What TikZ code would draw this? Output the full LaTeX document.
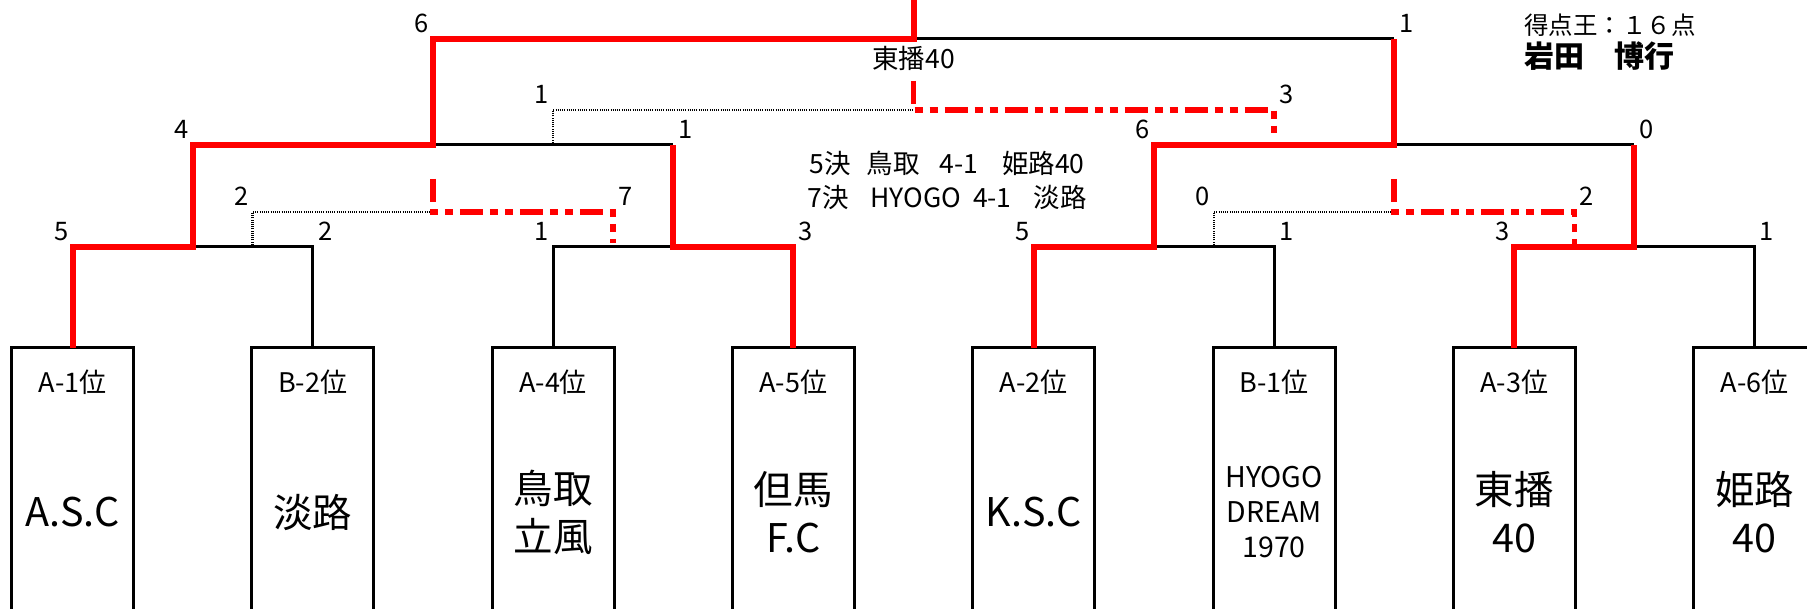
\documentclass[tikz,border=0pt]{standalone}
\usepackage{fontspec}
\setmainfont{Noto Sans CJK JP}
\usetikzlibrary{positioning,calc}
\definecolor{winRed}{RGB}{255,0,0}
\tikzset{%
  % Specifications for style of nodes:
    teamBox/.style = {rectangle, draw, line width=3pt, minimum width=122pt, minimum height=328pt, outer sep=0pt, inner sep=0pt, align=center, font=\fontsize{39.5}{48}\selectfont},
    teamSmall/.style = {teamBox, font=\fontsize{28.5}{35}\selectfont},
    rankLabel/.style = {font=\fontsize{27}{30}\selectfont, inner sep=0pt},
    score/.style = {font=\fontsize{25.5}{28}\selectfont, inner sep=0pt},
    scoreL/.style = {score, anchor=south east, xshift=-4pt, yshift=6pt},
    scoreR/.style = {score, anchor=south west, xshift=5pt, yshift=6pt},
    noteText/.style = {font=\fontsize{26.5}{34}\selectfont, align=center, inner sep=0pt},
  % Specifications for style of lines:
    bracketLine/.style = {line width=3pt, black},
    winLine/.style = {line width=6pt, winRed},
    thirdLine/.style = {line width=2.5pt, black, dash pattern=on 1pt off 1.2pt},
    thirdWin/.style = {line width=5.5pt, winRed, dash pattern=on 23pt off 7pt on 8pt off 7pt on 8pt off 7pt},
}

\begin{document}
\begin{tikzpicture}[x=1pt, y=-1pt]
	\useasboundingbox (0,0) rectangle (1807,609);
	\coordinate (topEdge) at (0,-5);

	\node [teamBox] (team-1) at (72.5,512) {A.S.C};
	\node [teamBox, right=118.3pt of team-1] (team-2) {淡路};
	\node [teamBox, right=118.3pt of team-2] (team-3) {鳥取\\立風};
	\node [teamBox, right=118.3pt of team-3] (team-4) {但馬\\F.C};
	\node [teamBox, right=118.3pt of team-4] (team-5) {K.S.C};
	\node [teamSmall, right=118.3pt of team-5] (team-6) {HYOGO\\DREAM\\1970};
	\node [teamBox, right=118.3pt of team-6] (team-7) {東播\\40};
	\node [teamBox, right=118.3pt of team-7] (team-8) {姫路\\40};

	\node [rankLabel] (rank-1) at ([yshift=-34pt]team-1.north) {A-1位};
	\node [rankLabel] (rank-2) at ([yshift=-34pt]team-2.north) {B-2位};
	\node [rankLabel] (rank-3) at ([yshift=-34pt]team-3.north) {A-4位};
	\node [rankLabel] (rank-4) at ([yshift=-34pt]team-4.north) {A-5位};
	\node [rankLabel] (rank-5) at ([yshift=-34pt]team-5.north) {A-2位};
	\node [rankLabel] (rank-6) at ([yshift=-34pt]team-6.north) {B-1位};
	\node [rankLabel] (rank-7) at ([yshift=-34pt]team-7.north) {A-3位};
	\node [rankLabel] (rank-8) at ([yshift=-34pt]team-8.north) {A-6位};

	% junctions
	\coordinate (j1) at ($(team-1.north)!.5!(team-2.north)+(0pt,101pt)$);
	\coordinate (j2) at ($(team-3.north)!.5!(team-4.north)+(0pt,101pt)$);
	\coordinate (j3) at ($(team-5.north)!.5!(team-6.north)+(0pt,101pt)$);
	\coordinate (j4) at ($(team-7.north)!.5!(team-8.north)+(0pt,101pt)$);
	\coordinate (k1) at ($(j1)!.5!(j2)+(0pt,102pt)$);
	\coordinate (k2) at ($(j3)!.5!(j4)+(0pt,102pt)$);
	\coordinate (f) at ($(k1)!.5!(k2)+(0pt,106pt)$);

	\draw[bracketLine] (j1) -| (team-2.north);
	\draw[bracketLine] (team-3.north) |- (j2);
	\draw[bracketLine] (j2 |- k1) -- (k1);
	\draw[bracketLine] (j3) -| (team-6.north);
	\draw[bracketLine] (k2 |- f) -- (f);
	\draw[bracketLine] (j4) -| (team-8.north);
	\draw[bracketLine] (j4 |- k2) -- (k2);

	% matches for places
	\coordinate (c1) at ($(j1)!.5!(team-2.north |- j1)$);
	\coordinate (d1) at ($(c1)+(0pt,35pt)$);
	\coordinate (c2) at ($(team-3.north |- j2)!.5!(j2)$);
	\coordinate (c3) at ($(k1)!.5!(j2 |- k1)$);
	\coordinate (d3) at ($(c3)+(0pt,35pt)$);
	\coordinate (c4) at ($(j3 |- k2)!.5!(k2)$);
	\coordinate (c5) at ($(j3)!.5!(team-6.north |- j3)$);
	\coordinate (d5) at ($(c5)+(0pt,35pt)$);
	\coordinate (c6) at ($(team-7.north |- j4)!.5!(j4)$);

	\draw[thirdLine] (c1) |- (k1 |- d1);
	\draw[thirdLine] (c3) |- (f |- d3);
	\draw[thirdLine] (c5) |- (k2 |- d5);
	\draw[thirdWin] ($(k1 |- d1)+(0pt,33pt)$) -- (k1 |- d1) -| ([yshift=4pt]c2);
	\draw[thirdWin] ($(f |- d3)+(0pt,29pt)$) coordinate (stubTop) -- (f |- d3) -| ([yshift=12pt]c4);
	\draw[thirdWin] ($(k2 |- d5)+(0pt,33pt)$) -- (k2 |- d5) -| (c6);

	\draw[winLine] (team-1.north) |- (j1) |- (k1) |- (f) -- (f |- topEdge);
	\draw[winLine] (team-4.north) |- (j2) -- (j2 |- k1);
	\draw[winLine] (team-5.north) |- (j3) |- (k2) -- (k2 |- f);
	\draw[winLine] (team-7.north) |- (j4) -- (j4 |- k2);

	% scores
	\node [scoreL] at (team-1.north |- j1) {5};
	\node [scoreR] at (team-2.north |- j1) {2};
	\node [scoreL] at (team-3.north |- j2) {1};
	\node [scoreR] at (team-4.north |- j2) {3};
	\node [scoreL] at (team-5.north |- j3) {5};
	\node [scoreR] at (team-6.north |- j3) {1};
	\node [scoreL] at (team-7.north |- j4) {3};
	\node [scoreR] at (team-8.north |- j4) {1};
	\node [scoreL] at (j1 |- k1) {4};
	\node [scoreR] at (j2 |- k1) {1};
	\node [scoreL] at (j3 |- k2) {6};
	\node [scoreR] at (j4 |- k2) {0};
	\node [scoreL] at (k1 |- f) {6};
	\node [scoreR] at (k2 |- f) {1};
	\node [scoreL] at (d1) {2};
	\node [scoreR] at (c2 |- d1) {7};
	\node [scoreL] at (d3) {1};
	\node [scoreR] at (c4 |- d3) {3};
	\node [scoreL] at (d5) {0};
	\node [scoreR] at (c6 |- d5) {2};

	\node [noteText, anchor=south, yshift=10pt] (bronze) at (stubTop) {東播40};
	\node [noteText] (notes) at (947,180) {5決\hspace{16pt}鳥取\hspace{20pt}4-1\hspace{24pt}姫路40\\7決\hspace{22pt}HYOGO\hspace{12pt}4-1\hspace{22pt}淡路};

	\node [noteText, anchor=west, font=\fontsize{24.5}{30}\selectfont] (scorerTitle) at (1524,25) {得点王：１６点};
	\node [below=5pt of scorerTitle.south west, anchor=north west, inner sep=0pt, font=\fontsize{30}{34}\selectfont\bfseries] (scorerName) {岩田　博行};
\end{tikzpicture}
\end{document}
